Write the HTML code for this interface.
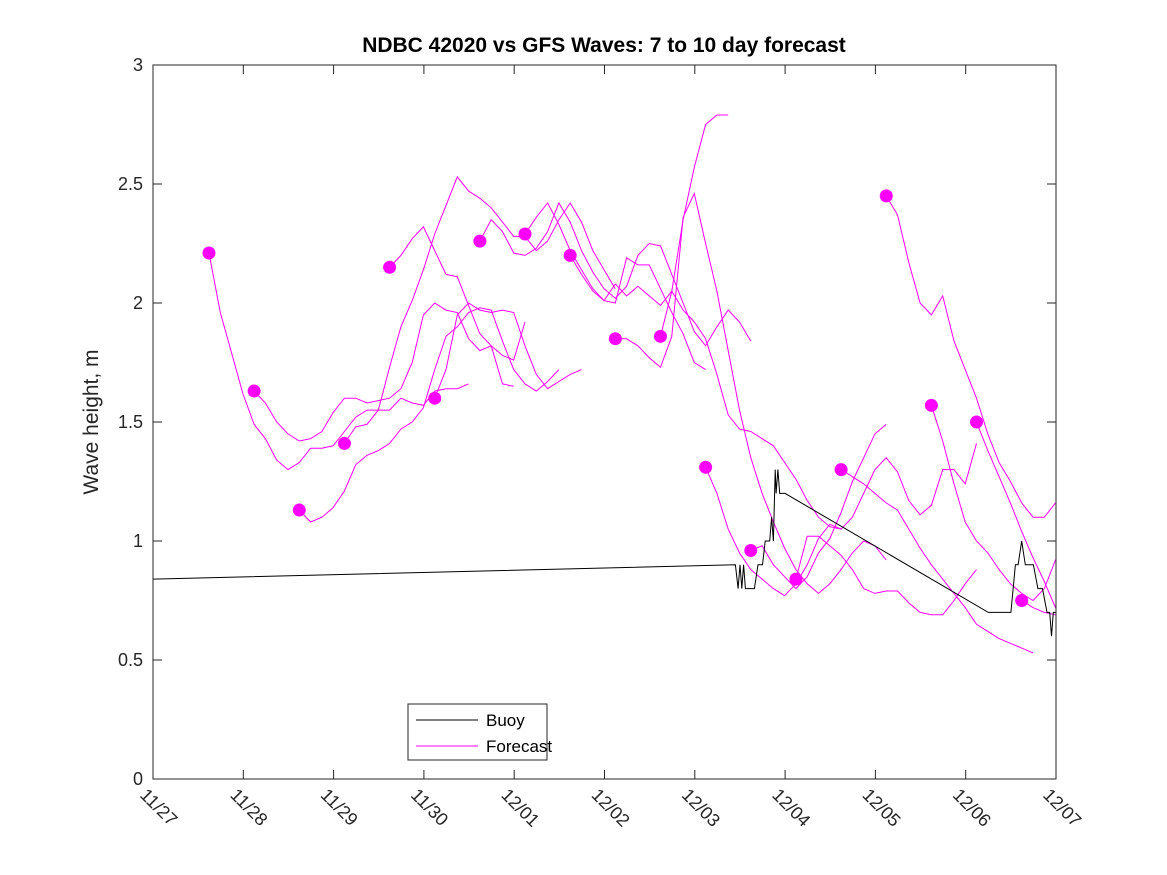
<!DOCTYPE html>
<html><head><meta charset="utf-8"><style>
body{margin:0;background:#fff;}
svg{display:block;font-family:"Liberation Sans",sans-serif;}
</style></head><body>
<svg id="chart" width="1167" height="875">
<defs><clipPath id="pc"><rect x="153" y="65" width="903" height="714"/></clipPath></defs>
<rect width="1167" height="875" fill="#fff"/>
<text x="604" y="52" text-anchor="middle" font-size="21" font-weight="bold" fill="#000">NDBC 42020 vs GFS Waves: 7 to 10 day forecast</text>
<text transform="translate(98,422) rotate(-90)" text-anchor="middle" font-size="21" fill="#262626">Wave height, m</text>
<g id="plot"></g>
<g id="legend">
<rect x="408" y="704" width="139" height="56" fill="#fff" stroke="#262626" stroke-width="1"/>
<line x1="416" y1="720" x2="478" y2="720" stroke="#000" stroke-width="1"/>
<text x="486" y="726" font-size="17" fill="#000">Buoy</text>
<line x1="416" y1="746" x2="478" y2="746" stroke="#ff00ff" stroke-width="1"/>
<text x="486" y="752" font-size="17" fill="#000">Forecast</text>
</g>
</svg>
<script>
const xTickLabels=["11/27","11/28","11/29","11/30","12/01","12/02","12/03","12/04","12/05","12/06","12/07"];
const yTicks=[0,0.5,1,1.5,2,2.5,3];
const buoyTimes=[0,6.45,6.48,6.5,6.52,6.54,6.56,6.58,6.6,6.62,6.64,6.66,6.7,6.75,6.78,6.8,6.83,6.85,6.87,6.89,6.9,6.92,6.94,6.96,7.0,9.25,9.45,9.5,9.55,9.58,9.62,9.66,9.7,9.75,9.8,9.85,9.9,9.93,9.95,9.97,10];
const buoyValues=[0.84,0.90,0.80,0.90,0.80,0.90,0.80,0.80,0.80,0.80,0.80,0.80,0.90,0.90,1.0,1.0,1.0,1.1,1.0,1.3,1.2,1.3,1.2,1.2,1.2,0.70,0.70,0.70,0.90,0.90,1.0,0.90,0.90,0.90,0.80,0.80,0.70,0.70,0.60,0.70,0.70];
const forecastStarts=[0.62,1.12,1.62,2.12,2.62,3.12,3.62,4.12,4.62,5.12,5.62,6.12,6.62,7.12,7.62,8.12,8.62,9.12,9.62];
const fc1=[2.21,1.96,1.79,1.62,1.49,1.43,1.34,1.30,1.33,1.39,1.39,1.40,1.46,1.52,1.55,1.55,1.55,1.60,1.58,1.57,1.63,1.64,1.64,1.66];
const fc2=[1.63,1.58,1.50,1.45,1.42,1.43,1.46,1.54,1.60,1.60,1.58,1.59,1.60,1.64,1.75,1.95,2.00,1.97,1.96,1.85,1.80,1.82,1.78,1.76,1.92];
const fc3=[1.13,1.08,1.10,1.14,1.21,1.32,1.36,1.38,1.41,1.47,1.50,1.56,1.72,1.86,1.90,1.96,1.98,1.97,1.84,1.72,1.66,1.63,1.67,1.72];
const fc4=[1.41,1.48,1.49,1.55,1.73,1.90,2.01,2.14,2.29,2.41,2.53,2.47,2.44,2.40,2.34,2.28,2.28,2.22,2.26,2.35,2.42,2.34,2.22,2.14,2.06];
const fc5=[2.15,2.20,2.27,2.32,2.22,2.12,2.11,1.99,1.87,1.82,1.66,1.65];
const fc6=[1.60,1.72,1.95,2.00,1.97,1.96,1.97,1.96,1.82,1.70,1.64,1.67,1.70,1.72];
const fc7=[2.26,2.35,2.30,2.21,2.20,2.23,2.30,2.42,2.34,2.22,2.13,2.06,2.02,2.07,2.20,2.25,2.24,2.12,2.00,1.88,1.82,1.90,1.97,1.92,1.84];
const fc8=[2.29,2.36,2.42,2.33,2.22,2.14,2.06,2.01,2.00,2.19,2.16,2.16,2.06,1.96,1.87,1.75,1.72];
const fc9=[2.20,2.12,2.05,2.01,2.08,2.03,2.07,2.03,1.99,2.05,1.97,1.92,1.85,1.70,1.53,1.47,1.46,1.43,1.40,1.33,1.26,1.17,1.10,1.06,1.05];
const fc10=[1.85,1.85,1.82,1.77,1.73,1.86,2.36,2.46,2.25,2.05,1.80,1.55,1.35,1.20,1.08,0.97,0.88,0.82,0.78,0.82,0.88,0.95,1.00,0.98,0.92];
const fc11=[1.86,2.05,2.35,2.57,2.75,2.79,2.79];
const fc12=[1.31,1.20,1.05,0.95,0.88,0.84,0.80,0.77,0.82,0.90,1.01,1.07,1.05,1.10,1.20,1.30,1.35,1.29,1.17,1.11,1.15,1.30,1.30,1.24,1.41];
const fc13=[0.96,0.98,0.90,0.85,0.80,0.85,0.95,1.01,1.12,1.25,1.35,1.45,1.49];
const fc14=[0.84,1.02,1.02,0.98,0.94,0.88,0.80,0.78,0.79,0.79,0.74,0.70,0.69,0.69,0.75,0.82,0.88];
const fc15=[1.30,1.27,1.24,1.20,1.16,1.13,1.05,0.97,0.90,0.84,0.78,0.72,0.65,0.62,0.59,0.57,0.55,0.53];
const fc16=[2.45,2.37,2.17,2.00,1.95,2.03,1.84,1.72,1.60,1.45,1.33,1.25,1.16,1.10,1.10,1.16,1.16,1.05,1.04,1.05,1.00];
const fc17=[1.57,1.42,1.24,1.08,1.00,0.95,0.88,0.82,0.78,0.75,0.80,0.92,0.96,0.88];
const fc18=[1.50,1.38,1.27,1.16,1.04,0.93,0.83,0.72,0.64,0.55];
const fc19=[0.75,0.72,0.70,0.69,0.62];
const forecasts=[fc1,fc2,fc3,fc4,fc5,fc6,fc7,fc8,fc9,fc10,fc11,fc12,fc13,fc14,fc15,fc16,fc17,fc18,fc19];
const stepDays=0.125;

const X0=153,X1=1056,Y0=779,Y1=65,XMAX=10,YMAX=3;
const NS="http://www.w3.org/2000/svg";
function xs(d){return X0+(X1-X0)*d/XMAX;}
function ys(v){return Y0-(Y0-Y1)*v/YMAX;}
const plot=document.getElementById('plot');
function mk(tag,attrs,parent){const e=document.createElementNS(NS,tag);for(const k in attrs)e.setAttribute(k,attrs[k]);(parent||plot).appendChild(e);return e;}
const clipG=mk('g',{'clip-path':'url(#pc)'});

forecasts.forEach((s,i)=>{
  const pts=s.map((v,j)=>xs(forecastStarts[i]+j*stepDays).toFixed(1)+','+ys(v).toFixed(1)).join(' ');
  const pl=mk('polyline',{points:pts,fill:'none',stroke:'#ff00ff','stroke-width':1},clipG);
  
  
});
forecasts.forEach((s,i)=>{
  const c=mk('circle',{cx:xs(forecastStarts[i]),cy:ys(s[0]),r:6.5,fill:'#ff00ff'});
  
  
});
const bpts=buoyTimes.map((t,i)=>xs(t).toFixed(1)+','+ys(buoyValues[i]).toFixed(1)).join(' ');
const bl=mk('polyline',{points:bpts,fill:'none',stroke:'#000','stroke-width':1},clipG);


const box=mk('rect',{x:X0,y:Y1,width:X1-X0,height:Y0-Y1,fill:'none',stroke:'#262626','stroke-width':1});


yTicks.forEach(v=>{
  const y=ys(v);
  mk('line',{x1:X0,y1:y,x2:X0+9,y2:y,stroke:'#262626'});
  mk('line',{x1:X1,y1:y,x2:X1-9,y2:y,stroke:'#262626'});
  const t=mk('text',{x:X0-10,y:y+6,'text-anchor':'end','font-size':18,fill:'#262626'});
  t.textContent=String(v);
  
  
});
xTickLabels.forEach((lab,i)=>{
  const x=xs(i);
  mk('line',{x1:x,y1:Y0,x2:x,y2:Y0-9,stroke:'#262626'});
  mk('line',{x1:x,y1:Y1,x2:x,y2:Y1+9,stroke:'#262626'});
  const t=mk('text',{x:0,y:0,transform:'translate('+(x-14)+','+(Y0+17)+') rotate(45)','font-size':18,fill:'#262626'});
  t.textContent=lab;
  
  
});
</script>
</body></html>
